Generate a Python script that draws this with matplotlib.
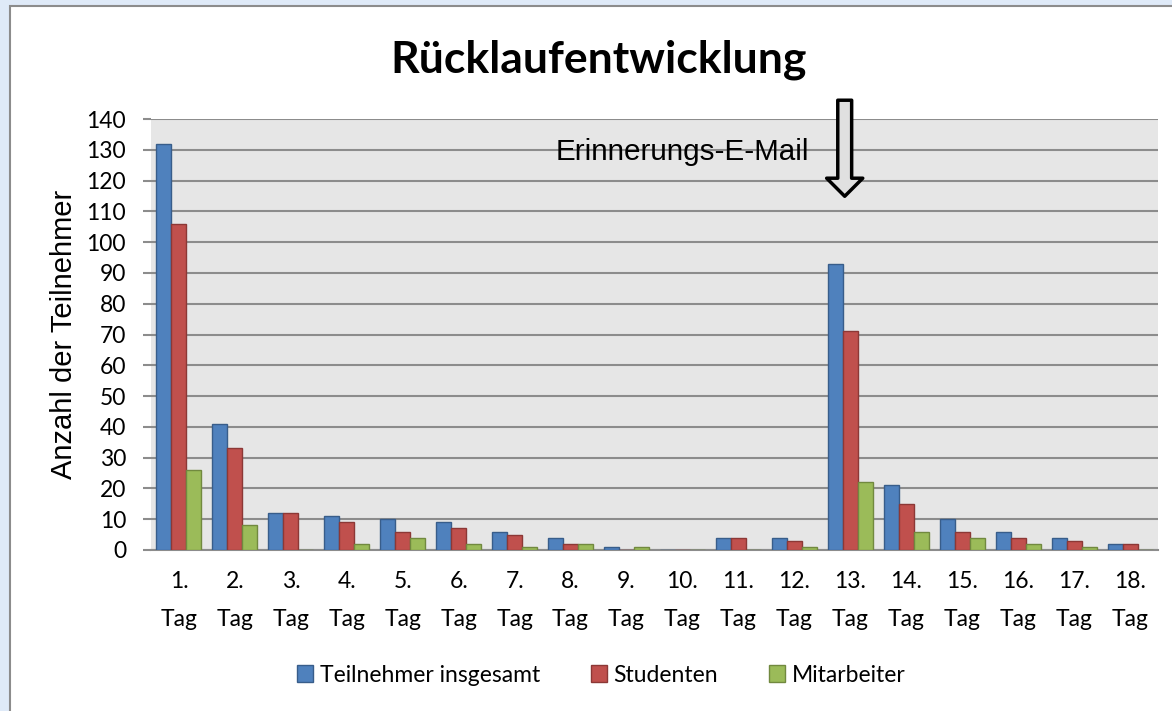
import matplotlib
matplotlib.use("Agg")
import matplotlib.pyplot as plt
from matplotlib.patches import Rectangle
import numpy as np

# Daten
tage = ["%d.\nTag" % i for i in range(1, 19)]
teilnehmer = [132, 41, 12, 11, 10, 9, 6, 4, 1, 0, 4, 4, 93, 21, 10, 6, 4, 2]
studenten = [106, 33, 12, 9, 6, 7, 5, 2, 0, 0, 4, 3, 71, 15, 6, 4, 3, 2]
mitarbeiter = [26, 8, 0, 2, 4, 2, 1, 2, 1, 0, 0, 1, 22, 6, 4, 2, 1, 0]
serien = ["Teilnehmer insgesamt", "Studenten", "Mitarbeiter"]
farben = ["#4f81bd", "#c0504d", "#9bbb59"]
kanten = ["#385d8a", "#8c3836", "#71893f"]
erinnerung_tag = 12  # index of 13. Tag

fig = plt.figure(figsize=(11.72, 7.11), dpi=100)
fig.patch.set_facecolor("#dfeaf8")
# white chart area with grey frame
fig.patches.append(Rectangle((10 / 1172, -0.01), 1.02, 1 - 6 / 711 + 0.01,
                             transform=fig.transFigure, facecolor="white",
                             edgecolor="#8c8c8c", lw=1.5, zorder=-5))

ax = fig.add_axes([151 / 1172, 1 - 550 / 711, (1158 - 151) / 1172, (550 - 119) / 711])
ax.set_facecolor("#e6e6e6")

x = np.arange(len(tage))
w = 0.268
for i, (werte, fc, ec, name) in enumerate(zip([teilnehmer, studenten, mitarbeiter], farben, kanten, serien)):
    ax.bar(x + (i - 1) * w, werte, w, color=fc, edgecolor=ec, lw=1, label=name, zorder=3)

ax.set_xlim(-0.5, len(tage) - 0.5)
ax.set_ylim(0, 140)
ax.set_yticks(range(0, 141, 10))
ax.yaxis.grid(True, color="#8c8c8c", lw=1.5, zorder=1)
ax.set_axisbelow(True)
for s in ["top", "right", "left"]:
    ax.spines[s].set_visible(False)
ax.spines["bottom"].set_color("#8c8c8c")
ax.spines["bottom"].set_linewidth(1.5)

ax.set_xticks(x)
ax.set_xticklabels(tage, fontsize=16.5, family="Lato", linespacing=2.0)
ax.tick_params(axis="x", length=0, pad=15)
ax.tick_params(axis="y", length=6, color="#8c8c8c", width=1.5, labelsize=16.5, pad=12)
for t in ax.get_yticklabels():
    t.set_family("Lato")

ax.set_ylabel("Anzahl der Teilnehmer", fontsize=21, family="Liberation Sans", labelpad=6)
fig.text(0.511, 1 - 60 / 711, "Rücklaufentwicklung", ha="center", va="center",
         fontsize=32, fontweight="bold", family="Lato")

# Erinnerungs-Pfeil
ax.annotate("", xy=(erinnerung_tag - 0.1, 114), xytext=(erinnerung_tag - 0.1, 147),
            arrowprops=dict(arrowstyle="simple,head_length=0.65,head_width=1.3,tail_width=0.5",
                            mutation_scale=20, fc="#e0e0e0", ec="black", lw=2.5),
            annotation_clip=False, zorder=5)
ax.text(6.74, 129.3, "Erinnerungs-E-Mail", fontsize=21.3, family="Liberation Sans",
        ha="left", va="center", zorder=5)

leg = fig.legend(loc="center", bbox_to_anchor=(0.513, 1 - 675 / 711), ncol=3, frameon=False,
                 prop={"family": "Lato", "size": 16.5}, handlelength=0.7, handleheight=0.7,
                 handletextpad=0.3, columnspacing=2.2)

fig.savefig("out.png", dpi=100, facecolor=fig.get_facecolor())
